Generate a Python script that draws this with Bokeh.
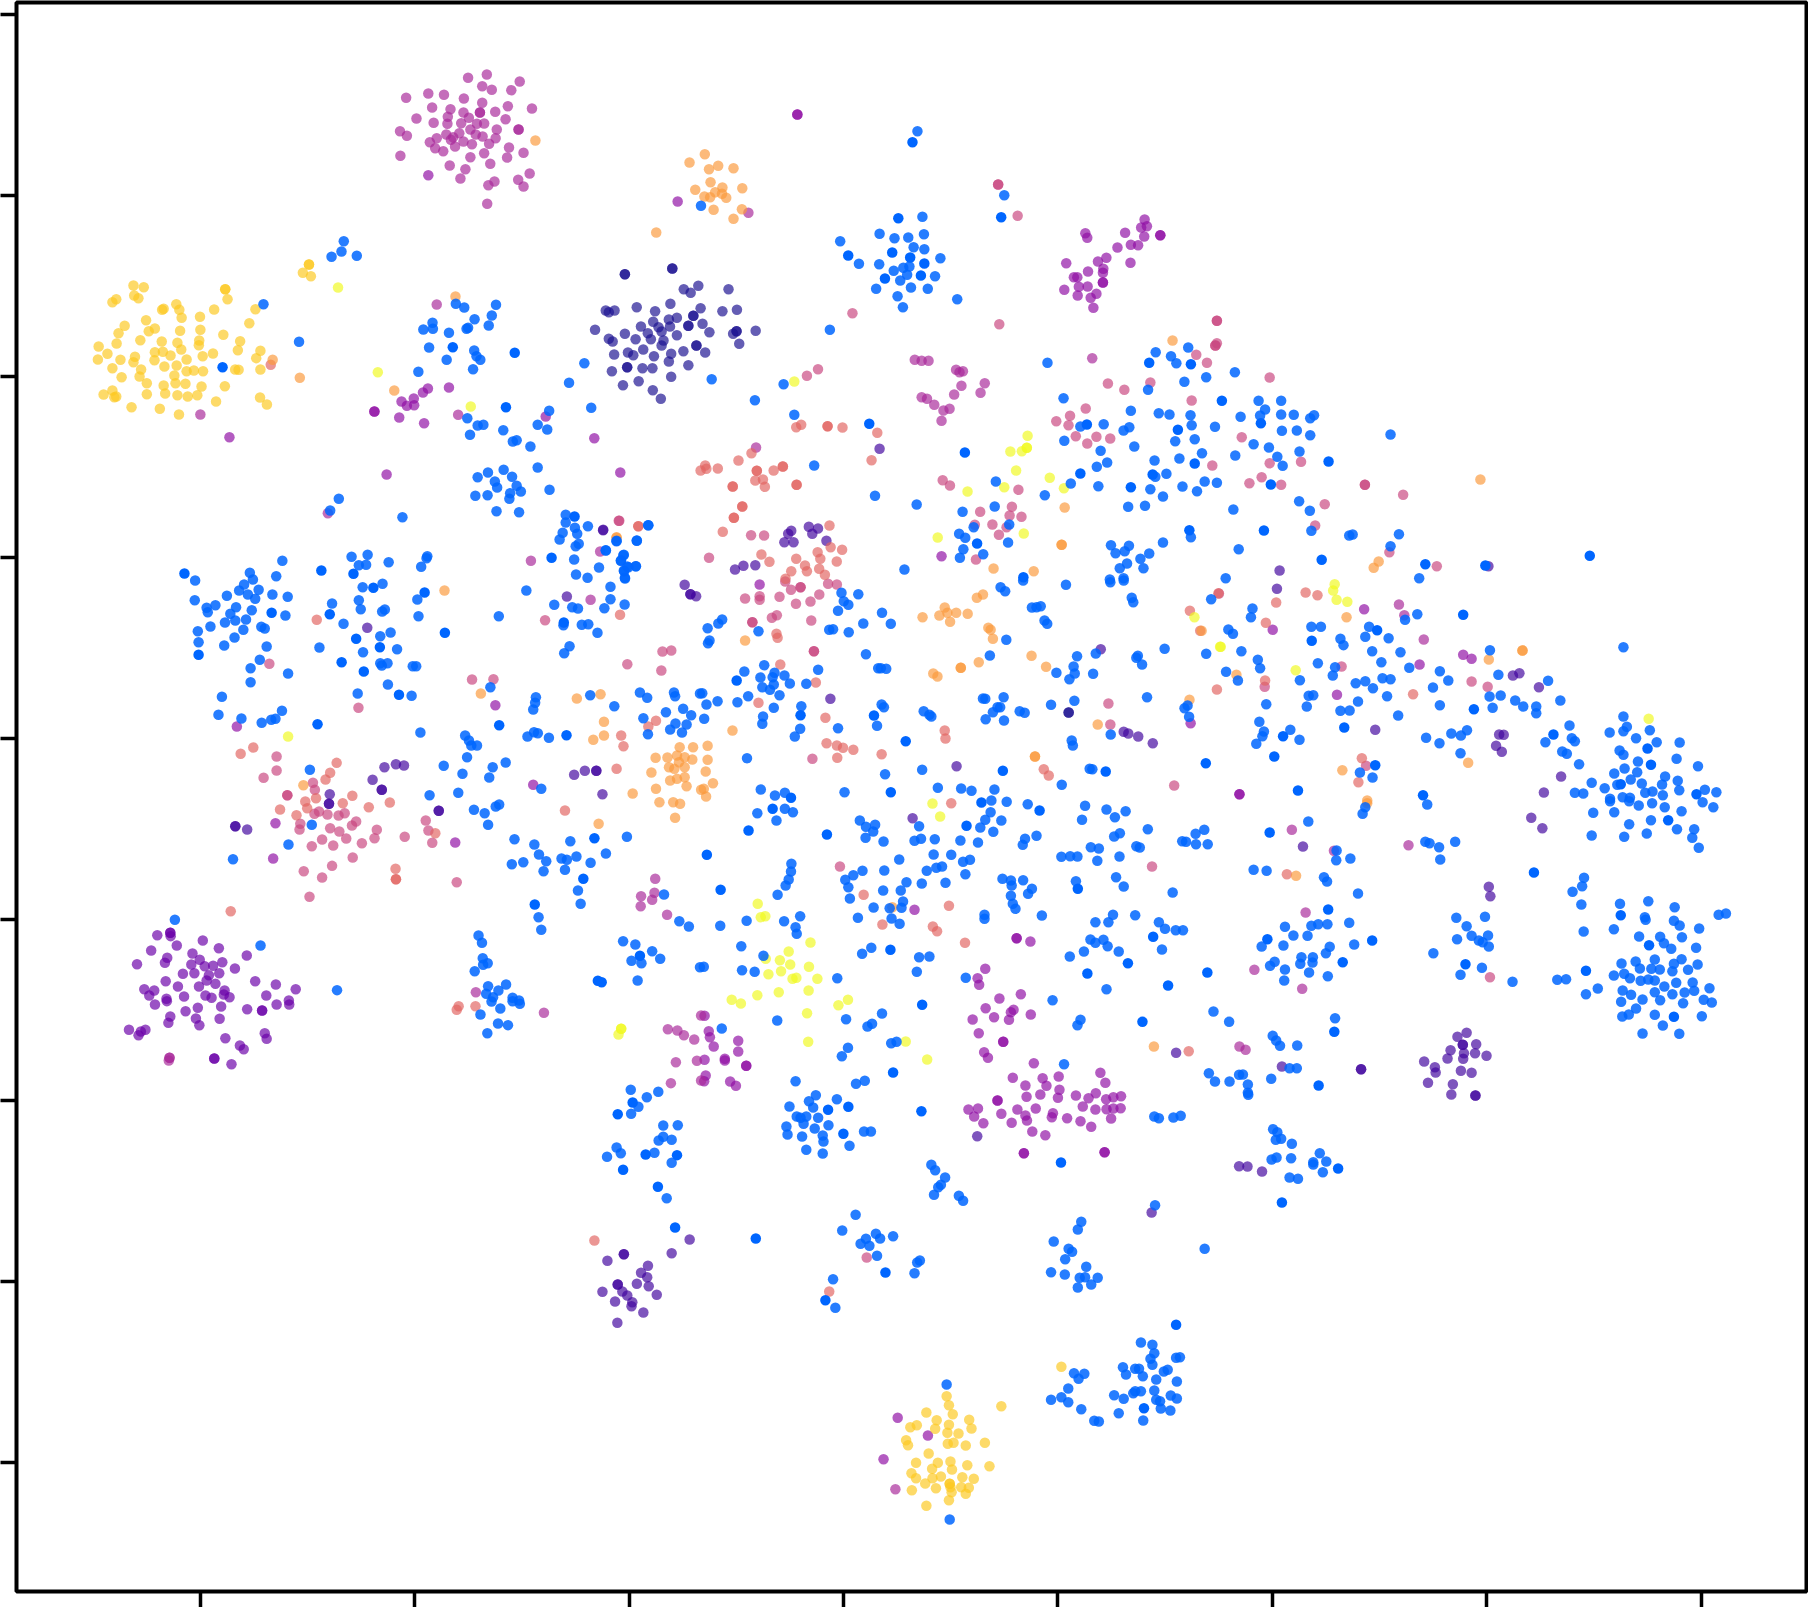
from bokeh.plotting import figure
from bokeh.models import Range1d, FixedTicker, ColumnDataSource
from bokeh.embed import file_html
from bokeh.resources import INLINE

# Values, grouped by region of the map and by colour class.
# Each region has its own origin and reading scale (below).
z1_gold = [(345,855),(372,860),(347,885),(358,893),(290,905),(300,896),(457,911),(465,928),(471,952),(424,925),(420,928),(585,866),(585,866),(591,896),(556,927),(519,949),(664,926),(378,959),(322,976),(306,998),(385,992),(401,984),(467,991),(520,988),(580,1003),(648,968),(301,1029),(363,1019),(419,1023),(460,1027),(517,1020),(516,1034),(624,1022),(254,1038),(277,1060),(349,1069),(401,1055),(422,1054),(442,1065),(470,1047),(526,1067),(553,1059),(618,1049),(677,1051),(666,1073),(252,1077),(311,1078),(345,1085),(400,1079),(484,1077),(426,1098),(458,1095),(290,1103),(365,1107),(314,1130),(361,1128),(484,1112),(503,1110),(527,1112),(611,1107),(620,1108),(677,1107),(452,1125),(380,1148),(424,1155),(455,1148),(481,1150),(523,1158),(584,1157),(267,1182),(290,1170),(295,1190),(300,1188),(380,1181),(428,1179),(460,1184),(487,1188),(512,1184),(561,1203),(676,1191),(694,1212),(340,1220),(414,1225),(464,1242),(788,817),(804,792),(804,792),(809,827)]
z1_blue = [(895,722),(889,753),(863,769),(929,766),(685,911),(778,1024),(1188,910),(1210,921),(1293,913),(1237,956),(1282,945),(1274,975),(1127,967),(1103,987),(1128,985),(1220,982),(1216,985),(1170,997),(1118,1041),(1236,1050),(1242,1067),(1252,1078),(1164,1078),(1233,1106),(1090,1114),(1524,1088),(1484,1147),(1542,1222),(1432,1231),(1218,1253),(1245,1275),(1260,1273),(1402,1273),(1427,1287),(1312,1289),(1225,1303),(1337,1323),(1347,1319),(1383,1338),(1402,1401),(1433,1468),(1245,1430),(1272,1416),(1313,1408),(1335,1429),(1290,1443),(1296,1461),(1347,1456),(1358,1473),(1330,1478),(1239,1486),(1271,1484),(1328,1495),(882,1495)]
z1_solid = [(578,1100),(1180,1040),(1342,1057),(1319,1220)]
z1_magenta = [(1220,232),(1269,222),(1355,243),(1257,257),(1282,268),(1333,269),(1058,292),(1116,279),(1157,283),(1209,294),(1257,307),(1324,317),(1387,324),(1126,321),(1174,326),(1208,336),(1291,334),(1085,354),(1167,349),(1222,352),(1318,356),(1130,367),(1166,370),(1202,368),(1243,370),(1262,369),(1226,387),(1295,387),(1042,392),(1060,406),(1163,402),(1197,398),(1240,402),(1258,408),(1292,413),(1138,413),(1120,425),(1175,418),(1208,423),(1230,431),(1275,430),(1134,443),(1155,452),(1186,438),(1327,441),(1365,457),(1043,466),(1226,470),(1262,458),(1322,471),(1172,495),(1278,490),(1381,519),(1213,506),(1200,534),(1289,543),(1273,554),(1351,538),(1365,558),(1270,610),(1138,912),(1194,1243),(520,1242),(1251,336),(1251,336),(1352,387),(1352,387),(1181,410)]
z1_violet = [(1116,524),(596,1310),(1170,1161),(1105,1268),(1040,1251),(1007,1422),(1550,1313),(1423,1248),(1115,1164),(1102,1176),(1078,1194),(1046,1203),(1060,1216),(1079,1214),(975,1233),(975,1233)]
z1_orange = [(1396,420),(1187,888),(1027,1170),(780,1132),(709,1078)]
z1_salmon = [(704,1093)]
z1_lemon = [(880,861),(984,1115),(1227,1218)]
z1_navy = [(1552,988)]

z4_orange = [(271,221),(231,246),(306,256),(282,266),(346,263),(286,305),(317,321),(246,328),(369,323),(270,348),(285,350),(298,335),(316,340),(327,352),(294,388),(368,386),(346,415),(144,456),(1494,780),(1026,1464),(1131,1472),(1212,1281),(1204,1393),(1204,1393),(40,1372)]
z4_violet = [(513,102),(513,102),(200,363),(1421,417),(1412,441),(1427,437),(1266,458),(1271,472),(1370,457),(1420,468),(1462,464),(1462,464),(1385,493),(1404,494),(1350,501),(1216,548),(1299,543),(1321,532),(1384,547),(1313,565),(1312,577),(1273,573),(1236,590),(1245,590),(1312,606),(1312,606),(1249,619),(1272,618),(1211,628),(1295,640),(1280,652),(1246,645),(1287,682),(50,1176),(890,1427)]
z4_magenta = [(385,397),(1284,833),(820,838),(838,841),(856,841),(928,868),(946,872),(937,875),(942,916),(1003,908),(923,942),(992,937),(838,950),(852,955),(871,973),(895,990),(911,985),(890,1021),(405,1101)]
z4_pink = [(1089,406),(538,886),(567,866),(657,698),(1041,731),(1325,909),(1368,928),(1436,906),(1544,960),(1267,984),(1226,1006),(1190,1022),(1222,1034),(1295,1069),(1241,1067),(1331,1074),(1271,1089),(1091,1228),(1074,1279),(991,1294),(1068,1305),(1099,1309),(1023,1332),(977,1333),(1060,1340),(1040,1363),(893,1199),(912,1215),(980,1437),(46,1321),(392,1364),(426,1365),(282,1432),(1556,823),(1038,312),(1038,312)]
z4_salmon = [(510,1040),(523,1033),(592,1037),(592,1037),(631,1041),(722,1057),(707,1139),(393,1118),(359,1140),(272,1155),(260,1170),(275,1165),(305,1164),(407,1171),(407,1171),(451,1170),(475,1158),(475,1158),(403,1200),(423,1197),(428,1219),(344,1218),(344,1218),(511,1213),(511,1213),(369,1278),(369,1278),(347,1312),(347,1312),(97,1337),(318,1354),(597,1335),(600,1400),(630,1408),(419,1422),(440,1444),(566,1415),(573,1435),(510,1435),(616,1443),(533,1455),(570,1465),(497,1472),(538,1472),(585,1483),(482,1495)]
z4_indigo = [(728,1105),(5,1349),(497,1351),(489,1360),(543,1339),(567,1344),(552,1360),(589,1381),(479,1385),(503,1385),(350,1467),(372,1456),(403,1454)]
z4_lemon = [(505,903),(1115,1066),(1070,1113),(1100,1112),(1113,1102),(1113,1102),(1085,1170),(1173,1192),(1210,1223),(1054,1220),(958,1233),(880,1371),(1105,1359)]
z4_navy = [(62,581),(62,581),(186,564),(186,564),(216,626),(234,637),(254,616),(333,626),(93,680),(181,670),(141,692),(12,690),(20,695),(35,690),(260,683),(317,692),(355,688),(177,717),(198,712),(241,706),(241,706),(136,724),(104,738),(150,740),(180,738),(228,736),(228,736),(265,730),(62,760),(122,758),(158,753),(283,755),(354,752),(354,752),(345,760),(404,751),(20,775),(30,783),(90,776),(130,776),(198,764),(163,780),(158,795),(249,795),(249,795),(361,790),(110,807),(34,822),(70,816),(84,824),(138,827),(183,820),(215,812),(272,816),(177,843),(228,854),(68,860),(68,860),(28,872),(108,863),(134,863),(183,889),(98,902),(57,914),(135,929),(156,955)]
z4_blue = [(827,152),(1054,344),(261,376),(840,409),(728,460),(767,473),(803,471),(844,461),(625,482),(817,500),(845,506),(887,533),(674,550),(727,551),(765,571),(790,562),(806,558),(800,583),(782,600),(873,587),(719,625),(810,621),(854,625),(775,647),(931,656),(789,680),(289,896),(402,959),(477,911),(598,748),(1167,847),(1450,815),(1490,827),(1535,801),(1504,848),(1525,904),(1430,928),(1209,953),(1385,991),(1458,998),(1486,1002),(1541,1004),(1544,1034),(1253,1038),(1314,1031),(1366,1050),(1381,1040),(1501,1082),(1552,1076),(1211,1081),(1394,1098),(1306,1111),(1447,1140),(1512,1134),(1323,1146),(1296,1159),(1478,1180),(1449,1189),(1228,1209),(1300,1217),(1436,1226),(1520,1218),(1469,1248),(1160,1244),(1558,1232),(1378,1279),(1422,1276),(1032,1203),(1029,1278),(945,1294),(1067,1332),(974,1340),(936,1360),(952,1372),(1064,1386),(947,1406),(999,1421),(938,1432),(793,1467),(1542,1370),(1469,1386),(1333,1394),(1380,1396),(1345,1418),(1369,1412),(1433,1419),(1410,1435),(1375,1449),(1356,1463),(1418,1463),(1330,1497),(1366,1493),(505,1003),(557,1155),(716,1246),(825,1272),(123,1334),(40,1382),(93,1381),(12,1409),(58,1424),(52,1440),(91,1457),(68,1458),(60,1472),(62,1492)]
z4_solid = [(814,185),(1046,410),(777,413),(646,525),(761,516),(808,531),(845,549),(742,594),(836,585),(1433,847),(1542,851),(1508,1048),(1270,1032),(1552,1149),(1253,1179),(1442,1182),(1385,1220),(951,1116),(983,1389),(1538,1349),(1104,1490),(701,1030)]

z5_blue = [(14,230),(89,215),(151,301),(210,301),(168,327),(104,349),(155,345),(210,342),(243,343),(296,344),(286,353),(37,379),(212,391),(251,390),(286,404),(496,402),(138,431),(178,441),(258,453),(3,458),(90,465),(200,469),(214,496),(10,543),(42,547),(257,602),(285,631),(85,627),(289,691),(397,702),(388,705),(518,701),(496,737),(99,746),(65,833),(27,896),(135,924),(131,950),(72,987),(84,1000),(571,833),(566,941),(534,958),(289,979),(314,979),(440,979),(365,1015),(373,1034),(430,1009),(491,1013),(448,1052),(522,1055),(106,1052),(14,1060),(149,1078),(155,1103),(306,1088),(472,1085),(66,1114),(351,1100),(345,1125),(545,1102),(625,1112),(647,1140),(97,1140),(259,1139),(405,1148),(430,1142),(475,1133),(496,1136),(450,1163),(607,1161),(778,1123),(908,1141),(755,1188),(784,1185),(282,1186),(294,1184),(487,1187),(822,1200),(843,1218),(877,1218),(877,1238),(940,1200),(171,1211),(277,1218),(411,1203),(625,1214),(763,1222),(365,1231),(389,1230),(516,1245),(153,1264),(696,1289),(655,1299),(680,1305),(589,1312),(624,1328),(234,1288),(165,1293),(161,1307),(258,1318),(145,1330),(679,1358),(756,1049),(1105,1040),(964,1275),(1105,1248),(1114,1279),(1105,1292),(1069,1296),(1174,1289),(1138,1313),(901,1325),(970,1313),(978,1322),(1192,1325),(1252,1326),(1095,1350),(1105,1363),(945,1353),(957,1360),(1244,1375),(1143,1383),(989,1391),(1300,1397),(1108,1404),(1081,1419),(1141,1415),(1214,1428),(1124,1437),(1247,1441),(1022,1447),(1153,1449),(1089,1453),(1206,1452),(1056,1463),(978,1477),(1000,1479),(1162,1477),(1181,1473),(1251,1469),(1318,1468),(1348,1475),(1208,1484),(1070,1495),(1103,1490),(1122,1492),(416,1416),(449,1431)]
z5_solid = [(55,301),(157,368),(334,483),(183,552),(165,690),(316,778),(587,791),(744,795),(1017,766),(686,943),(461,989),(290,1021),(375,1281),(215,1307),(192,1368),(13,1388),(714,1226),(922,1302),(1168,1344),(1177,1393),(1098,1451),(1296,1481),(456,1394),(254,1470),(581,1484)]
z5_pink = [(16,187),(180,231),(107,410),(180,488),(262,484),(30,495),(159,530),(127,548),(210,553),(324,611),(529,583),(299,675),(493,755),(708,1143),(750,1159),(368,1098),(167,1159),(617,797),(42,61),(42,61),(42,128),(38,135),(38,135),(429,553),(429,553),(432,1396)]
z5_orange = [(731,537),(465,783),(452,802),(381,950),(2,991),(841,1050),(841,1050),(753,1077),(93,1123),(370,1409),(699,1387),(435,1500)]
z5_salmon = [(46,878),(274,876),(305,884),(197,906),(170,967),(168,1140),(42,1167),(555,1181),(421,1373),(412,1445)]
z5_lemon = [(350,851),(346,870),(355,898),(383,904),(52,1039),(248,1109),(1171,1255)]
z5_indigo = [(752,797),(206,810),(199,865),(816,1125),(833,1118),(884,1160),(456,1288),(780,1302),(792,1303),(772,1336),(787,1354),(942,1428),(897,1476)]
z5_violet = [(427,926),(188,988),(686,1063),(708,1075),(572,1092),(356,1183),(101,1481),(101,1481)]
z5_magenta = [(518,912),(532,944),(583,1017)]

z6_blue = [(598,30),(787,50),(1033,32),(1092,35),(245,240),(473,181),(388,217),(457,227),(396,237),(373,252),(360,270),(411,268),(383,282),(402,295),(447,282),(487,289),(328,286),(244,299),(298,314),(275,322),(278,335),(352,320),(337,340),(393,329),(481,345),(378,357),(323,366),(350,360),(285,378),(252,392),(371,388),(418,379),(427,384),(254,425),(348,411),(321,435),(432,438),(414,478),(390,503),(488,519),(390,545),(315,589),(306,643),(366,654),(472,631),(455,655),(444,658),(419,667),(654,169),(696,163),(673,194),(692,193),(751,185),(852,167),(850,173),(836,199),(683,260),(735,250),(826,297),(603,309),(673,299),(678,326),(741,327),(734,333),(829,347),(633,370),(756,396),(729,407),(570,441),(773,446),(684,455),(729,488),(748,488),(733,495),(814,497),(823,497),(749,552),(811,586),(670,579),(1039,347),(1111,270),(1214,43),(1214,66),(1272,77),(1238,82),(1244,100),(1206,97),(1198,117),(1347,121),(1400,120),(1430,74),(1240,137),(1248,130),(1319,150),(1236,177),(1366,163),(1358,181),(1397,197),(1301,201),(1366,210),(1378,200),(1369,234),(1241,222),(1271,232),(1331,259),(1331,296),(1184,313),(1231,320),(1246,324),(1315,323),(1368,312),(1256,373),(1273,371),(1208,374),(1297,397),(1224,437),(1210,458),(1017,560),(1136,590),(1134,607),(1129,627),(1278,584),(1341,617),(1408,576),(1427,592),(1497,576),(1500,587),(1565,579),(1476,635),(1521,625),(1542,644),(1417,653),(1501,669),(1530,672),(1487,687),(1518,696),(1429,701),(834,696),(1114,708),(1131,695),(1141,698),(1170,712),(1150,865),(951,705),(961,720),(967,735),(982,735),(956,770),(895,796),(1057,786),(1023,800),(944,820),(1014,831),(933,877),(858,884),(974,928),(1002,938),(1031,918),(1040,912),(1011,973),(545,808),(550,973),(489,1032),(344,1076),(1080,1016),(1132,1032),(1226,1022),(1374,1009),(1144,1062),(1163,1082),(1203,1074),(1217,1078),(1242,1068),(1319,1059),(1073,1091),(1103,1085),(1279,1087),(1156,1112),(1212,1108),(1246,1170),(1253,1210),(1143,1250),(1150,1288),(1471,1182),(1511,1262),(1536,1278),(1364,1322),(1396,1332),(1440,1352),(1461,1375),(1386,1381),(1412,1388),(1565,1400),(1402,1440),(986,1305),(995,1327),(997,1373),(1010,1388),(998,1393),(976,1412),(1058,1452),(1011,1457),(1038,1470),(1006,1480),(1024,1490),(1075,1492),(1092,1500),(416,1335),(192,1258),(616,1469)]
z6_solid = [(217,219),(445,337),(254,463),(565,671),(575,210),(659,220),(711,262),(845,276),(597,341),(898,397),(666,415),(728,440),(628,485),(686,513),(778,583),(1237,48),(1177,172),(1209,366),(1040,674),(1216,704),(1289,1013),(1260,1135),(1133,1212),(1408,1366),(1298,1441),(1308,1445)]
z6_orange = [(897,270),(1347,110),(992,579),(1243,594),(1305,581),(1314,664),(1314,705),(1286,718),(1512,740),(1547,740),(1449,772),(1480,771),(1505,765),(1525,770),(1545,777),(1510,785),(1484,800),(1498,805),(1525,800),(1438,816),(1487,840),(1505,835),(1525,830),(1530,857),(1450,865),(1568,868),(1389,879),(1459,905),(1495,905),(1513,910),(1500,952),(1300,970),(528,854)]
z6_salmon = [(563,358),(1404,77),(1356,343),(1450,661),(1430,678),(1359,705),(1365,737),(1347,805),(364,760),(397,741),(615,787),(598,817),(586,837),(561,893),(656,886),(533,903),(538,923),(467,927),(631,908),(699,920),(754,906),(510,944),(769,1105),(770,1136),(770,1136),(338,1232),(1212,930),(873,998)]
z6_pink = [(439,490),(672,622),(1354,61),(1160,359),(1467,453),(1490,450),(1375,491),(1464,510),(969,537),(1025,536),(458,768),(458,810),(424,832),(553,847),(558,868),(557,940),(569,933),(591,942),(620,945),(636,938),(486,884),(486,884),(666,963),(655,975),(598,983),(622,993),(520,970),(518,987),(720,988),(714,1013),(640,1014),(577,1017),(793,1009),(681,1028),(606,1035),(550,1037),(657,1071),(603,1096),(529,1112),(577,1131),(544,1189),(848,960),(855,990),(865,1027),(929,1145)]
z6_magenta = [(592,38),(1279,298),(1304,153),(1123,181),(1448,1135),(1446,1177),(1411,1187),(1440,1198),(1410,1217),(1479,1243),(979,1475)]
z6_violet = [(354,678),(1030,614),(1129,853),(455,968),(925,1026),(449,1074)]
z6_indigo = [(695,382),(1312,88),(1217,288),(1525,253),(1540,281),(1540,281),(1555,287),(1236,823),(1264,811),(1294,811),(1294,811),(1310,881),(709,838),(740,800),(770,791),(791,795),(733,868),(733,868),(882,931),(882,931),(597,881),(595,910),(595,910),(381,987),(350,977),(350,977)]
z6_lemon = [(488,708)]
z6_purple = [(146,1304),(180,1297),(180,1297),(181,1307),(197,1335),(265,1320),(307,1343),(130,1350),(238,1359),(380,1365),(172,1372),(166,1387),(93,1391),(257,1378),(235,1392),(292,1396),(316,1385),(270,1397),(349,1404),(213,1420),(243,1418),(308,1418),(281,1424),(168,1442),(275,1440),(298,1450),(402,1442),(456,1452),(200,1458),(255,1458),(508,1466),(112,1466),(138,1470),(125,1485),(322,1470),(320,1482),(335,1490),(216,1488),(170,1495),(272,1485),(288,1492),(431,1485),(490,1500)]

z7_blue = [(367,37),(411,41),(373,62),(385,73),(358,91),(473,97),(496,130),(424,129),(335,148),(345,146),(386,155),(17,143),(45,129),(55,117),(150,152),(22,180),(18,188),(783,20),(795,32),(842,0),(954,13),(1070,5),(1105,0),(1126,52),(1130,65),(865,81),(888,77),(877,80),(898,120),(905,130),(798,178),(1212,205),(1142,226),(1138,232),(1153,252),(983,227),(1032,219),(974,258),(977,279),(963,296),(929,277),(1025,280),(755,225),(431,221),(463,263),(470,263),(484,265),(165,254),(113,273),(155,291),(192,277),(187,290),(218,285),(232,309),(190,312),(275,310),(306,268),(160,320),(180,328),(205,344),(123,347),(95,365),(43,362),(14,372),(3,338),(8,415),(190,382),(262,377),(162,408),(160,430),(259,445),(245,468),(358,443),(472,372),(478,380),(460,436),(582,392),(597,403),(602,408),(737,354),(743,355),(791,350),(775,380),(782,380),(763,395),(744,416),(792,420),(833,392),(846,397),(915,373),(976,361),(1166,350),(1071,462),(969,480),(972,495),(120,533),(481,581),(578,568),(943,613),(1016,565),(1023,566),(156,627),(193,645),(219,637),(375,635),(147,698),(219,685),(240,695),(197,720),(619,622),(680,624),(707,631),(767,627),(759,660),(799,664),(854,671),(757,695),(743,718),(785,720),(730,741),(764,754),(415,720),(431,739),(455,733),(450,753),(430,772),(477,783),(570,737),(558,781),(575,775),(611,776),(678,780),(724,786),(847,775),(841,793),(877,766),(1004,676),(1060,687),(1110,692),(1082,710),(996,718),(1168,746),(1095,758),(1080,768),(1019,800),(1040,804),(1138,797),(1147,801),(942,829),(965,827),(984,828),(1036,841),(1094,828),(1293,760),(1258,782),(1268,784),(1294,791),(518,837),(608,822),(654,823),(685,844),(703,838),(590,871),(615,862),(630,858),(691,881),(479,870),(422,871),(398,884),(377,898),(385,920),(577,909),(537,905),(639,907),(476,930),(522,930),(528,963),(524,982),(451,981),(493,983),(410,1012),(498,1014),(519,1030),(389,954),(788,895),(810,900),(812,915),(842,899),(865,925),(855,940),(810,946),(815,970),(822,985),(980,902),(1085,890),(1105,918),(1233,936),(891,1005),(741,1003),(741,1015),(1031,1025),(1077,1003),(1065,1025),(1135,1004),(1197,1025),(1213,1045),(1241,1049),(1260,1049),(1018,1077),(1031,1087),(1052,1078),(1063,1097),(1001,1113),(1092,1113),(1205,1107),(964,1128),(1060,1226),(919,1259),(992,1318),(984,1334),(236,850),(235,873),(229,897),(221,915),(200,943),(259,1007),(119,1021),(50,1036),(217,1022),(247,1040),(250,1060),(105,1097),(163,1126),(7,1159),(107,1169),(140,1174),(421,1120),(445,1102),(570,1130),(597,1128),(564,1174),(692,1192),(356,1193),(379,1316),(473,1299),(447,1330),(435,1338),(54,1344),(368,1427),(384,1402),(497,1388),(511,1384),(199,1320),(1272,375),(1264,383),(1276,409)]
z7_solid = [(260,404),(93,300),(452,405),(535,482),(789,571),(1058,573),(235,652),(496,635),(187,685),(124,750),(329,762),(15,823),(733,666),(885,690),(694,736),(985,925),(1182,1069),(1116,1148),(1010,1179),(1221,1215),(578,1273),(1154,1324),(51,928),(495,1108)]
z7_pink = [(220,3),(115,54),(153,47),(153,58),(205,49),(235,28),(248,70),(286,63),(309,42),(332,10),(355,12),(185,112),(198,104),(288,120),(260,20),(260,20),(134,125),(134,125),(295,212),(295,212),(291,535),(1065,369),(1070,432),(363,858),(1179,858),(1237,615),(1354,39)]
z7_salmon = [(197,160),(200,172),(207,252),(300,306),(150,367),(325,412),(328,488),(355,495),(371,502),(398,508),(356,532),(472,521),(637,450),(639,474),(896,566),(909,585),(654,668),(425,943),(648,976),(474,1032),(606,1038),(617,1052),(690,1087),(1275,1412),(1278,91),(1305,151)]
z7_orange = [(115,180),(82,450),(17,496),(17,538),(12,573),(31,608),(7,625),(13,648),(737,42),(721,52),(637,81),(579,110),(623,105),(644,97),(667,97),(697,100),(651,124),(751,142),(757,148),(763,175),(726,245),(864,226),(902,259),(679,262),(679,262),(607,279),(618,288),(1037,432),(500,980),(1184,1398),(1277,358),(873,528),(873,528)]
z7_lemon = [(605,669),(625,708),(148,970),(156,1010),(168,1007),(286,1086),(229,1113),(169,1135),(206,1139),(233,1152),(282,1159),(209,1172),(176,1181),(239,1195),(249,1192),(304,1195),(203,1235),(281,1230),(147,1244),(80,1258),(104,1269),(359,1274),(384,1258),(277,1298),(280,1384),(535,1383),(591,1437),(1290,110),(1357,199)]
z7_indigo = [(1045,206),(338,355),(1105,454),(1117,459),(1143,468),(1181,488),(668,557),(553,713),(1242,1417)]
z7_navy = [(961,396),(961,396)]
z7_violet = [(153,12),(558,988),(825,1073),(825,1073),(861,1083),(743,1165),(723,1193),(727,1213),(836,1241),(780,1254),(744,1283),(862,1302),(766,1310),(710,1317),(805,1318),(810,1295),(817,1288),(726,1358),(790,1384),(790,1384),(740,1415),(750,1432),(9,1306),(20,1352),(23,1370),(33,1398),(97,1381),(97,1413),(62,1435),(9,1438),(1280,428)]

z8_blue = [(430,20),(423,40),(592,12),(1070,2),(1120,2),(1145,15),(1180,8),(1213,20),(1312,5),(1340,20),(1026,37),(1081,35),(1257,32),(1120,71),(1177,59),(1245,86),(1290,86),(1022,105),(1107,109),(1166,99),(1285,112),(1302,142),(9,88),(18,131),(281,63),(355,150),(354,179),(391,174),(138,208),(172,211),(322,230),(330,243),(411,279),(587,124),(598,128),(623,140),(665,124),(626,177),(1002,232),(997,257),(972,274),(995,312),(668,352),(743,349),(695,377),(751,405),(708,406),(670,416),(727,420),(737,425),(753,438),(608,458),(735,502),(679,523),(815,544),(932,538),(955,536),(1038,564),(1007,581),(220,379),(289,376),(307,371),(331,371),(388,367),(242,405),(279,406),(159,438),(216,435),(401,432),(337,439),(327,458),(263,470),(293,470),(193,484),(181,496),(260,490),(292,486),(220,507),(283,516),(332,527),(218,540),(1096,310),(1170,302),(1239,320),(1161,350),(1163,358),(1237,361),(1252,375),(1303,384),(1354,343),(1373,339),(1001,393),(1080,386),(1146,408),(1201,409),(1258,410),(1211,428),(1230,445),(1295,442),(1257,476),(1187,477),(1100,489),(1137,483),(1237,490),(1299,492),(1148,504),(1178,505),(1200,507),(1233,512),(1274,508),(1080,525),(1107,520),(1122,533),(1150,541),(1170,537),(1187,540),(1243,547),(1286,546),(1212,558),(1330,563),(1103,570),(1187,575),(1265,576),(1290,571),(1125,583),(1233,581),(1155,597),(1201,599),(1315,598),(1336,606),(1099,604),(1261,608),(1138,624),(1119,642),(1102,648),(1187,643),(1310,647),(1208,675),(1155,699),(1251,700),(33,633),(74,664),(351,653),(188,706),(197,720),(207,736),(252,735),(232,803),(251,803),(21,818),(37,843),(75,843),(100,823),(110,822),(123,852),(184,835),(123,877),(124,883),(189,986),(200,995),(196,1018),(210,1015),(238,1030),(185,1077),(198,1071),(236,1073),(311,1058),(294,1085),(294,1092),(328,1083),(319,1115),(232,1131),(254,1135),(10,1345)]
z8_solid = [(1222,59),(180,96),(871,216),(692,491),(1007,511),(333,327),(174,416),(448,420),(371,485),(17,516),(1098,344),(1172,434),(1237,649),(349,694),(308,855),(359,1104),(212,1206)]
z8_orange = [(435,8),(249,226)]
z8_magenta = [(238,88),(348,151),(543,134),(274,336),(140,508),(265,565),(101,738),(117,748)]
z8_salmon = [(225,221)]
z8_pink = [(756,530)]
z8_indigo = [(267,138),(864,52),(893,83),(753,259),(757,287),(212,798),(419,806),(419,806),(695,697),(671,709),(685,733),(685,733),(720,731),(653,749),(717,758),(747,766),(645,774),(686,775),(688,758),(584,783),(612,800),(614,816),(680,811),(708,817),(594,847),(659,851),(655,882),(718,885),(718,885),(100,1097),(122,1098),(160,1113)]

z9_purple = [(140,12),(171,2),(220,32),(252,22),(313,18),(381,26),(420,30),(420,30),(458,12),(491,12),(180,48),(175,67),(247,54),(256,74),(309,55),(72,88),(115,88),(103,93),(97,104),(324,113),(427,98),(432,115),(362,135),(372,146),(295,174),(295,174),(340,191)]
z9_magenta = [(178,172),(176,180),(178,172),(1157,37),(1481,86),(1506,90),(1523,104),(1550,117),(1502,185),(1557,181),(1489,248),(1568,240),(1568,45)]
z9_salmon = [(934,17),(929,28),(978,17),(1289,720)]
z9_blue = [(1020,3),(1075,2),(1094,10),(1043,24),(991,42),(1037,69),(1063,74),(1009,98),(1384,268),(1456,274),(1426,290),(1404,319),(1385,340),(1469,375),(1507,374),(1469,409),(1457,420),(1491,418),(1347,441),(1358,458),(1322,469),(1446,457),(1491,487),(1478,593)]
z9_solid = [(1389,306),(1350,341),(1423,462),(1505,464),(1364,508),(1455,559),(1500,681)]
z9_lemon = [(1359,85),(1359,85),(1352,102)]
z9_indigo = [(1538,717),(1491,758),(1323,781),(1366,761),(1366,761),(1429,796),(1411,817),(1427,830),(1400,850),(1431,857),(1350,852),(1350,852),(1310,874),(1362,873),(1375,885),(1452,883),(1343,903),(1388,905),(1386,917),(1417,936),(1349,967)]

z10_violet = [(118,16),(118,16),(12,45),(8,62),(76,63),(91,76),(62,0),(815,52),(893,53),(935,48),(1044,37),(848,75),(903,76),(1057,67),(937,88),(887,102),(851,109),(933,112),(980,105),(1032,98),(1013,113),(1059,116),(1078,110),(1098,107),(775,120),(775,120),(699,147),(724,144),(714,168),(738,188),(785,160),(827,147),(875,144),(848,165),(852,180),(920,158),(917,170),(998,138),(1031,147),(1060,146),(1078,144),(1097,143),(957,173),(992,182),(1072,174),(812,187),(866,213),(900,224),(1020,199),(844,278),(844,278),(1055,275),(1055,275),(870,8),(514,1072),(593,1125),(477,1196)]
z10_indigo = [(722,227),(1178,456)]
z10_blue = [(247,62),(405,70),(428,61),(300,104),(355,116),(282,122),(293,141),(231,138),(250,168),(275,168),(260,172),(306,172),(268,190),(333,194),(223,198),(297,204),(226,222),(264,228),(318,225),(320,243),(426,213),(444,213),(388,256),(275,268),(318,279),(949,11),(1185,168),(1197,173),(1235,171),(1254,166),(602,313),(612,329),(638,351),(627,373),(620,380),(609,403),(674,406),(685,421),(1187,434),(404,463),(369,510),(457,520),(431,535),(468,534),(502,527),(417,550),(440,556),(460,586),(572,600),(565,606),(558,638),(345,656),(351,742),(994,484),(985,507),(922,543),(961,565),(970,574),(952,596),(1007,619),(915,635),(951,642),(990,652),(1004,650),(1037,652),(1020,672),(985,681),(1150,846),(1180,853),(1185,878),(1175,895),(1180,913),(1242,892),(1252,890),(1103,920),(1135,925),(1145,925),(1111,942),(1155,947),(1210,933),(1220,928),(975,938),(1002,940),(987,955),(1190,957),(1244,963),(960,984),(1080,1004),(1135,992),(1130,998),(1150,992),(1185,990),(1105,1015),(942,1010),(915,1018),(960,1025),(1228,1005),(1244,1014),(1190,1018),(1200,1022),(994,1046),(1202,1044),(1227,1050),(1092,1058),(1028,1081),(1040,1083),(1156,1080),(642,972),(650,1377)]
z10_solid = [(502,36),(332,148),(385,139),(576,152),(372,220),(941,306),(143,534),(482,636),(325,719),(1242,793),(1158,1043)]
z10_pink = [(433,591)]
z10_salmon = [(335,693)]
z10_gold = [(942,919),(642,1007),(648,1034),(658,1061),(589,1056),(785,1037),(616,1079),(701,1078),(547,1100),(564,1094),(648,1093),(707,1104),(612,1105),(644,1117),(673,1119),(536,1139),(541,1154),(645,1150),(660,1147),(692,1155),(742,1147),(595,1179),(652,1203),(562,1207),(619,1207),(696,1214),(754,1217),(604,1225),(656,1227),(550,1238),(562,1253),(605,1253),(627,1248),(683,1250),(713,1255),(586,1269),(650,1270),(650,1270),(652,1280),(680,1280),(700,1282),(551,1289),(614,1283),(655,1295),(692,1300),(648,1319),(589,1336)]
z10_magenta = [(508,1286)]

# region origin of each reading (reference pixels)
regions = [
    (0, 0, {"gold": z1_gold, "blue": z1_blue, "solid": z1_solid, "magenta": z1_magenta, "violet": z1_violet, "orange": z1_orange, "salmon": z1_salmon, "lemon": z1_lemon, "navy": z1_navy}),
    (600, 80, {"orange": z4_orange, "violet": z4_violet, "magenta": z4_magenta, "pink": z4_pink, "salmon": z4_salmon, "indigo": z4_indigo, "lemon": z4_lemon, "navy": z4_navy, "blue": z4_blue, "solid": z4_solid}),
    (1200, 300, {"blue": z5_blue, "solid": z5_solid, "pink": z5_pink, "orange": z5_orange, "salmon": z5_salmon, "lemon": z5_lemon, "indigo": z5_indigo, "violet": z5_violet, "magenta": z5_magenta}),
    (100, 500, {"blue": z6_blue, "solid": z6_solid, "orange": z6_orange, "salmon": z6_salmon, "pink": z6_pink, "magenta": z6_magenta, "violet": z6_violet, "indigo": z6_indigo, "lemon": z6_lemon, "purple": z6_purple}),
    (700, 580, {"blue": z7_blue, "solid": z7_solid, "pink": z7_pink, "salmon": z7_salmon, "orange": z7_orange, "lemon": z7_lemon, "indigo": z7_indigo, "navy": z7_navy, "violet": z7_violet}),
    (1200, 800, {"blue": z8_blue, "solid": z8_solid, "orange": z8_orange, "magenta": z8_magenta, "salmon": z8_salmon, "pink": z8_pink, "indigo": z8_indigo}),
    (100, 1000, {"purple": z9_purple, "magenta": z9_magenta, "salmon": z9_salmon, "blue": z9_blue, "solid": z9_solid, "lemon": z9_lemon, "indigo": z9_indigo}),
    (700, 1060, {"violet": z10_violet, "indigo": z10_indigo, "blue": z10_blue, "solid": z10_solid, "pink": z10_pink, "salmon": z10_salmon, "gold": z10_gold, "magenta": z10_magenta}),
]

palette = {"navy": "#1a1090", "indigo": "#41049d", "purple": "#6a00a8", "violet": "#8f0da4", "magenta": "#a8289a",
           "pink": "#c8457f", "salmon": "#e16462", "orange": "#fb9a3c", "gold": "#fcc820", "lemon": "#f0f921",
           "blue": "#0066ff", "solid": "#0066ff"}
alphas = {k: 0.68 for k in palette}
alphas["blue"] = 0.85
alphas["solid"] = 1.0

x_ticks = [-40, -30, -20, -10, 0, 10, 20, 30]
y_ticks = [-40, -30, -20, -10, 0, 10, 20, 30, 40]

def to_x(px):
    return -40 + (px - 199.0) / 214.5 * 10

def to_y(py):
    return 40 - (py - 14.3) / 180.9 * 10

SX, SY = 1568 / 600, 3.0

p = figure(width=1808, height=1607, output_backend="svg", toolbar_location=None,
           x_range=Range1d(to_x(15), to_x(1806)), y_range=Range1d(to_y(1591), to_y(2)),
           min_border_left=15, min_border_right=2, min_border_top=2, min_border_bottom=16,
           background_fill_color="white", border_fill_color="white")
p.grid.visible = False
p.outline_line_color = "black"
p.outline_line_width = 4
p.outline_line_alpha = 1

for ax, ticks in ((p.xaxis[0], x_ticks), (p.yaxis[0], y_ticks)):
    ax.ticker = FixedTicker(ticks=ticks)
    ax.major_tick_in = 0
    ax.major_tick_out = 16
    ax.major_tick_line_width = 3.5
    ax.major_tick_line_color = "black"
    ax.minor_tick_line_color = None
    ax.axis_line_color = None
    ax.major_label_overrides = {t: "" for t in ticks}
    ax.major_label_text_font_size = "1px"
    ax.major_label_standoff = 0

order = ["navy", "indigo", "purple", "violet", "magenta", "pink", "salmon", "orange", "gold", "lemon", "blue", "solid"]
for name in order:
    xs, ys = [], []
    for x0, y0, groups in regions:
        for zx, zy in groups.get(name, []):
            xs.append(to_x(x0 + zx / SX))
            ys.append(to_y(y0 + zy / SY))
    p.scatter(xs, ys, size=10.5, marker="circle", fill_color=palette[name], fill_alpha=alphas[name], line_color=None)

open("out.html", "w").write(file_html(p, INLINE))
